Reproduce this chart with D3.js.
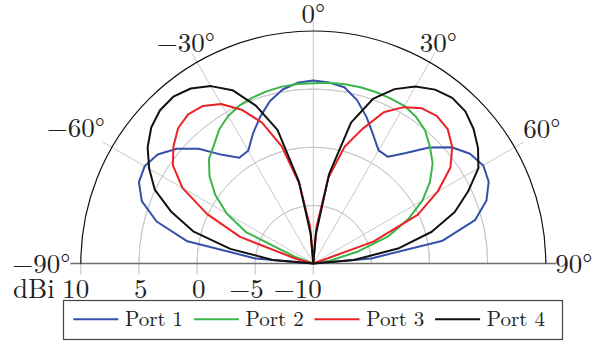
<!DOCTYPE html>
<html>
<head>
<meta charset="utf-8">
<script src="https://cdn.jsdelivr.net/npm/d3@7"></script>
<style>
  html, body { margin: 0; padding: 0; background: #fff; }
</style>
</head>
<body>
<svg id="chart" width="593" height="344"></svg>
<script>
// Azimuth angles (degrees, 0 = broadside, clockwise positive)
const angles = [-90,-85,-80,-75,-70,-65,-60,-55,-50,-45,-40,-35,-30,-25,-20,-15,-10,-5,0,
                5,10,15,20,25,30,35,40,45,50,55,60,65,70,75,80,85,90];

// Realized gain per port (dBi)
const port1 = [-10,-5.0,1.0,3.95,5.7,6.55,6.75,6.35,5.35,3.95,2.2,1.1,1.2,2.3,3.4,4.45,5.2,5.6,5.75,
               5.62,5.4,4.55,3.4,2.2,1.23,1.2,2.4,4.1,5.55,6.45,6.88,6.65,5.85,4.4,1.3,-5.0,-10];
const port2 = [-10,-10,-10,-10,-8.3,-3.6,-1.4,0.3,1.65,2.7,3.3,4.1,4.65,5.0,5.2,5.35,5.45,5.5,5.5,
               5.6,5.65,5.7,5.7,5.68,5.66,5.4,4.96,4.19,3.4,2.25,0.85,-1.0,-3.1,-6.0,-8.5,-10,-10];
const port3 = [-10,-10,-10,-8.5,-3.3,0.1,3.0,4.75,5.7,6.45,6.75,6.55,5.85,4.6,2.9,0.4,-3.0,-6.8,-10,
               -6.8,-2.5,0.4,2.3,4.35,5.53,6.3,6.55,6.35,5.6,4.4,2.35,-0.1,-4.5,-10,-10,-10,-10];
const port4 = [-10,-6.5,-2.75,0.7,3.0,5.05,6.3,7.4,8.2,8.65,8.73,8.38,7.62,6.45,4.45,1.9,-2.8,-7.5,-10,
               -7.5,-2.2,2.55,5.1,6.55,7.57,8.26,8.6,8.5,8.0,7.3,6.4,4.7,2.95,0.55,-2.6,-6.5,-10];

const seriesNames = ["Port 1", "Port 2", "Port 3", "Port 4"];
const seriesColors = ["#3450a8", "#3cb54a", "#ea2227", "#111111"];

// Axis ticks
const angleTicks = [-90, -60, -30, 0, 30, 60, 90];
const angleTickLabels = ["\u221290°", "\u221260°", "\u221230°", "0°", "30°", "60°", "90°"];
const radialTicks = [10, 5, 0, -5, -10];
const radialTickLabels = ["10", "5", "0", "\u22125", "\u221210"];
const gridRings = [5, 0, -5];

const FONT = "'Latin Modern Roman', 'Liberation Serif', serif";

// Layout
const cx = 313.3, cy = 263.5;
const svg = d3.select("#chart");
const r = d3.scaleLinear().domain([-10, 10]).range([0, 232.5]).clamp(true);
const rGrid = r(10) + 10.5;
const rad = d => d * Math.PI / 180;

const g = svg.append("g").attr("transform", `translate(${cx},${cy})`);

// Concentric grid rings
const ringArc = d3.arc().startAngle(-Math.PI / 2).endAngle(Math.PI / 2);
g.selectAll("path.ring").data(gridRings).join("path")
  .attr("class", "ring")
  .attr("d", d => ringArc({innerRadius: r(d), outerRadius: r(d)}))
  .attr("fill", "none").attr("stroke", "#c9c9c9").attr("stroke-width", 1);

// Radial spokes (the ±90° spokes form the dark baseline)
g.selectAll("line.spoke").data(angleTicks.filter(a => Math.abs(a) < 90)).join("line")
  .attr("class", "spoke")
  .attr("x1", 0).attr("y1", 0)
  .attr("x2", a => rGrid * Math.sin(rad(a)))
  .attr("y2", a => -rGrid * Math.cos(rad(a)))
  .attr("stroke", "#c9c9c9").attr("stroke-width", 1);

// Radial tick marks below the baseline
g.selectAll("line.rtick").data(radialTicks).join("line")
  .attr("class", "rtick")
  .attr("x1", d => -r(d)).attr("x2", d => -r(d))
  .attr("y1", 0).attr("y2", 11)
  .attr("stroke", "#bdbdbd").attr("stroke-width", 1);

g.append("line")
  .attr("x1", -rGrid).attr("x2", rGrid).attr("y1", 0).attr("y2", 0)
  .attr("stroke", "#6e6e6e").attr("stroke-width", 1.4);

// Outer boundary at +10 dBi
g.append("path")
  .attr("d", ringArc({innerRadius: r(10), outerRadius: r(10)}))
  .attr("fill", "none").attr("stroke", "#111").attr("stroke-width", 1.2);

// Pattern curves
const series = [port1, port2, port3, port4];
const line = d3.lineRadial()
  .angle(d => rad(d[0]))
  .radius(d => r(d[1]));
g.selectAll("path.pattern").data(series).join("path")
  .attr("class", "pattern")
  .attr("d", vals => line(angles.map((a, i) => [a, vals[i]])))
  .attr("fill", "none")
  .attr("stroke", (d, i) => seriesColors[i])
  .attr("stroke-width", 2)
  .attr("stroke-linejoin", "round");

// Angle labels, placed relative to the end of each spoke
const angleLabelOffset = {
  "-90": [0, 9.8, "end"], "-60": [2, -5, "end"], "-30": [-6, -1.4, "middle"],
  "0": [0, 2.5, "middle"], "30": [3.5, -0.8, "middle"], "60": [-0.5, -3.7, "start"],
  "90": [-1, 9.8, "start"]
};
g.selectAll("text.alabel").data(angleTicks).join("text")
  .attr("class", "alabel")
  .attr("x", a => rGrid * Math.sin(rad(a)) + angleLabelOffset[a][0])
  .attr("y", a => -rGrid * Math.cos(rad(a)) + angleLabelOffset[a][1])
  .attr("text-anchor", a => angleLabelOffset[a][2])
  .style("font-family", FONT).style("font-size", "27px").style("fill", "#222")
  .text((a, i) => angleTickLabels[i]);

// Radial (dBi) labels along the left baseline
g.selectAll("text.rlabel").data(radialTicks).join("text")
  .attr("class", "rlabel")
  .attr("x", d => -r(d) + 8.5)
  .attr("y", 34.8)
  .attr("text-anchor", "end")
  .style("font-family", FONT).style("font-size", "27px").style("fill", "#222")
  .text((d, i) => radialTickLabels[i]);

svg.append("text")
  .attr("x", 13).attr("y", cy + 34.8)
  .style("font-family", FONT).style("font-size", "27px").style("fill", "#222")
  .text("dBi");

// Legend
const legend = svg.append("g");
legend.append("rect")
  .attr("x", 63.5).attr("y", 300.5).attr("width", 499).attr("height", 39)
  .attr("fill", "#fff").attr("stroke", "#444").attr("stroke-width", 1.2);
const item = legend.selectAll("g.item").data(seriesNames).join("g")
  .attr("class", "item")
  .attr("transform", (d, i) => `translate(${73.3 + i * 120.6},0)`);
item.append("line")
  .attr("x1", 0).attr("x2", 45).attr("y1", 319.3).attr("y2", 319.3)
  .attr("stroke", (d, i) => seriesColors[i]).attr("stroke-width", 2);
item.append("text")
  .attr("x", 51.7).attr("y", 326)
  .style("font-family", FONT).style("font-size", "21px").style("fill", "#222")
  .text(d => d);
</script>
</body>
</html>
